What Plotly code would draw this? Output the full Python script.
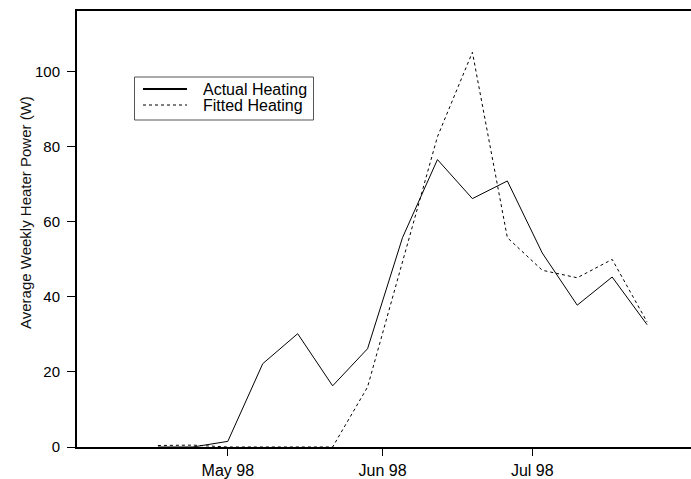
import plotly.graph_objects as go

# Weekly sample dates (1998 heating season)
week_dates = [
    "1998-04-17", "1998-04-24", "1998-05-01", "1998-05-08", "1998-05-15",
    "1998-05-22", "1998-05-29", "1998-06-05", "1998-06-12", "1998-06-19",
    "1998-06-26", "1998-07-03", "1998-07-10", "1998-07-17", "1998-07-24",
]

# Average weekly heater power (W)
actual_heating = [0, 0, 1.5, 22.2, 30.2, 16.3, 26.2, 55.8, 76.6, 66.2,
                  70.9, 51.7, 37.8, 45.3, 32.6]
fitted_heating = [0.4, 0.5, 0, 0, 0, 0, 16.0, 49.0, 82.7, 105.2,
                  55.8, 47.1, 45.1, 50.0, 33.3]

# Axis ticks
month_ticks = ["1998-05-01", "1998-06-01", "1998-07-01"]
month_labels = ["May 98", "Jun 98", "Jul 98"]
power_ticks = [0, 20, 40, 60, 80, 100]

series_names = ["Actual Heating", "Fitted Heating"]

FONT = "Liberation Sans, Arial, sans-serif"

fig = go.Figure()
fig.add_trace(go.Scatter(
    x=week_dates, y=actual_heating, mode="lines", name=series_names[0],
    line=dict(color="black", width=1), showlegend=False,
))
fig.add_trace(go.Scatter(
    x=week_dates, y=fitted_heating, mode="lines", name=series_names[1],
    line=dict(color="black", width=1, dash="3px,3px"), showlegend=False,
))

W, H = 691, 479
ML, MR, MT, MB = 77, 0, 11, 32
plot_w = W - ML - MR
plot_h = H - MT - MB

fig.update_layout(
    width=W, height=H,
    margin=dict(l=ML, r=MR, t=MT, b=MB, pad=0, autoexpand=False),
    paper_bgcolor="white", plot_bgcolor="white",
    font=dict(family=FONT, size=15, color="black"),
    showlegend=False,
)

fig.update_xaxes(
    type="date", automargin=False,
    range=["1998-03-31 19:00", "1998-08-01 19:00"],
    tickvals=month_ticks, ticktext=month_labels,
    ticks="outside", ticklen=7, tickwidth=1, tickcolor="black",
    ticklabelstandoff=1,
    showline=True, linewidth=2, linecolor="black", mirror=True,
    showgrid=False, zeroline=False,
    tickfont=dict(family=FONT, size=16, color="black"),
)
fig.update_yaxes(
    automargin=False,
    range=[0, 116.2],
    tickvals=power_ticks,
    ticks="outside", ticklen=8, tickwidth=1, tickcolor="black",
    ticklabelstandoff=4,
    showline=True, linewidth=2, linecolor="black", mirror=False,
    showgrid=False, zeroline=False,
    tickfont=dict(family=FONT, size=15, color="black"),
)


def pxx(v):
    """Pixel x position -> paper fraction."""
    return (v - ML) / plot_w


def pxy(v):
    """Pixel y position -> paper fraction."""
    return 1 - (v - MT) / plot_h


# Rotated y-axis title
fig.add_annotation(
    text="Average Weekly Heater Power (W)", textangle=-90,
    xref="paper", yref="paper", x=pxx(25), y=pxy(213),
    showarrow=False, xanchor="center", yanchor="middle",
    font=dict(family=FONT, size=15, color="#111"),
)

# Legend box with line samples and labels
fig.add_shape(type="rect", xref="paper", yref="paper",
              x0=pxx(134.5), x1=pxx(313.5), y0=pxy(77), y1=pxy(120),
              line=dict(color="#555", width=1), fillcolor="white")
legend_rows = [(89, dict(color="black", width=2)),
               (105, dict(color="black", width=1, dash="3px,3px"))]
for name, (ry, lstyle) in zip(series_names, legend_rows):
    fig.add_shape(type="line", xref="paper", yref="paper",
                  x0=pxx(143), x1=pxx(187), y0=pxy(ry), y1=pxy(ry),
                  line=lstyle)
    fig.add_annotation(text=name, xref="paper", yref="paper",
                       x=pxx(201), y=pxy(ry), xanchor="left",
                       yanchor="middle", showarrow=False,
                       font=dict(family=FONT, size=16, color="black"))

fig.write_html("out.html")
